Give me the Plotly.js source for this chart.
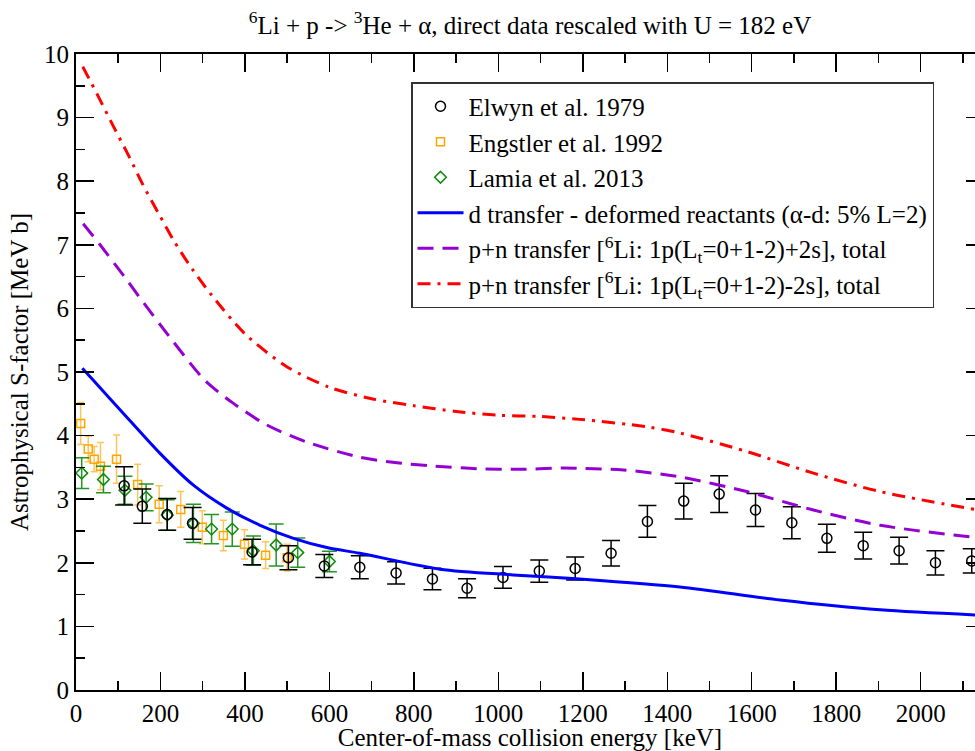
<!DOCTYPE html>
<html>
<head>
<meta charset="utf-8">
<script src="https://cdn.plot.ly/plotly-3.0.1.min.js"></script>
<style>
  html, body { margin: 0; padding: 0; background: #fff; overflow: hidden; }
  #wrap { width: 975px; height: 751px; overflow: hidden; }
  #chart { width: 990px; height: 751px; }
</style>
</head>
<body>
<div id="wrap"><div id="chart"></div></div>
<script>
// Elwyn et al. 1979
const elwynE   = [114,157,216,276,417,503,588,672,758,844,926,1011,1097,1182,1267,1353,1439,1523,1609,1695,1778,1864,1949,2035,2121];
const elwynS   = [3.21,2.89,2.76,2.62,2.17,2.08,1.95,1.93,1.84,1.745,1.60,1.77,1.87,1.91,2.15,2.65,2.97,3.08,2.83,2.63,2.385,2.27,2.19,2.00,2.03];
const elwynErr = [0.30,0.27,0.25,0.25,0.20,0.19,0.18,0.18,0.175,0.17,0.15,0.17,0.175,0.18,0.20,0.25,0.28,0.29,0.26,0.25,0.22,0.21,0.21,0.19,0.19];

// Engstler et al. 1992
const engE   = [11,29,43,58,96,146,197,248,299,349,399,449,500];
const engS   = [4.19,3.79,3.63,3.52,3.63,3.23,2.92,2.84,2.56,2.43,2.29,2.12,2.08];
const engErr = [0.33,0.20,0.20,0.37,0.38,0.32,0.29,0.28,0.26,0.24,0.23,0.21,0.21];

// Lamia et al. 2013
const lamE   = [13.5,65,116,166,216,278,321,370,420,474,525,600];
const lamS   = [3.41,3.31,3.14,3.03,2.75,2.62,2.53,2.53,2.19,2.28,2.16,2.02];
const lamErr = [0.24,0.21,0.22,0.21,0.24,0.30,0.23,0.27,0.23,0.33,0.23,0.16];

// d transfer - deformed reactants
const dE = [15,41,108,199,278,357,436,515,594,672,862,1035,1193,1430,1667,1904,2129];
const dS = [5.06,4.87,4.38,3.72,3.22,2.86,2.59,2.385,2.24,2.15,1.90,1.81,1.745,1.62,1.415,1.26,1.18];

// p+n transfer (+2s)
const pE = [17,57,120,152,230,305,372,451,546,672,750,850,950,1050,1150,1193,1296,1430,1588,1746,1904,2129];
const pS = [7.33,7.0,6.45,6.16,5.48,4.87,4.51,4.17,3.90,3.66,3.58,3.52,3.48,3.47,3.49,3.485,3.46,3.35,3.12,2.83,2.59,2.40];

// p+n transfer (-2s)
const mE = [16,53,88,124,158,195,233,275,321,400,500,600,700,800,900,1000,1100,1193,1351,1430,1588,1746,1904,2129];
const mS = [9.80,9.33,8.87,8.41,7.95,7.50,7.05,6.62,6.21,5.60,5.08,4.76,4.58,4.47,4.38,4.32,4.30,4.255,4.14,4.04,3.75,3.41,3.12,2.84];

const names = [
  'Elwyn et al. 1979',
  'Engstler et al. 1992',
  'Lamia et al. 2013',
  'd transfer - deformed reactants (α-d: 5% L=2)',
  'p+n transfer [<sup>6</sup>Li: 1p(L<sub>t</sub>=0+1-2)+2s], total',
  'p+n transfer [<sup>6</sup>Li: 1p(L<sub>t</sub>=0+1-2)-2s], total'
];

const traces = [
  { x: engE, y: engS, name: names[1], legendrank: 2, type: 'scatter', mode: 'markers',
    marker: { symbol: 'square-open', size: 8, color: '#FFA500', line: { width: 1.5, color: '#FFA500' } },
    error_y: { type: 'data', array: engErr, visible: true, color: 'rgba(255,165,0,0.65)', thickness: 1.5, width: 3.5 } },
  { x: lamE, y: lamS, name: names[2], legendrank: 3, type: 'scatter', mode: 'markers',
    marker: { symbol: 'diamond-open', size: 9, color: '#0b8a0b', line: { width: 1.5, color: '#0b8a0b' } },
    error_y: { type: 'data', array: lamErr, visible: true, color: 'rgba(0,130,0,0.85)', thickness: 1.5, width: 7.5 } },
  { x: elwynE, y: elwynS, name: names[0], legendrank: 1, type: 'scatter', mode: 'markers',
    marker: { symbol: 'circle-open', size: 10, color: '#000', line: { width: 1.5, color: '#000' } },
    error_y: { type: 'data', array: elwynErr, visible: true, color: '#000', thickness: 1.5, width: 9 } },
  { x: dE, y: dS, name: names[3], legendrank: 4, type: 'scatter', mode: 'lines',
    line: { color: '#0000FF', width: 3, shape: 'spline', smoothing: 0.8 } },
  { x: pE, y: pS, name: names[4], legendrank: 5, type: 'scatter', mode: 'lines',
    line: { color: '#9400D3', width: 3, dash: '16px,9px', shape: 'spline', smoothing: 0.8 } },
  { x: mE, y: mS, name: names[5], legendrank: 6, type: 'scatter', mode: 'lines',
    line: { color: '#FF0000', width: 3, dash: '13px,7px,3px,7px', shape: 'spline', smoothing: 0.8 } }
];

const font = '"Liberation Serif", "Times New Roman", serif';
const FS = 25;

const axisCommon = {
  showline: true, linecolor: '#000', linewidth: 2, mirror: 'ticks',
  ticks: 'inside', ticklen: 18, tickwidth: 1.5, tickcolor: '#000',
  showgrid: false, zeroline: false,
  tickfont: { family: font, size: FS, color: '#000' }
};

const layout = {
  width: 990, height: 751,
  margin: { l: 76, r: 6, t: 54, b: 61 },
  paper_bgcolor: '#fff', plot_bgcolor: '#fff',
  font: { family: font, color: '#000', size: FS },
  title: {
    text: '<sup>6</sup>Li + p -> <sup>3</sup>He + α, direct data rescaled with U = 182 eV',
    font: { family: font, size: FS, color: '#000' },
    x: 530 / 990, xanchor: 'center', xref: 'container',
    y: 1 - 25 / 751, yanchor: 'middle', yref: 'container'
  },
  xaxis: Object.assign({}, axisCommon, {
    range: [0, 2150], dtick: 200, tick0: 0,
    minor: { ticks: 'inside', ticklen: 9, tickwidth: 1.5, tickcolor: '#000', dtick: 100 },
    title: { text: 'Center-of-mass collision energy [keV]', font: { family: font, size: FS, color: '#000' }, standoff: 2 }
  }),
  yaxis: Object.assign({}, axisCommon, {
    range: [0, 10], dtick: 1, tick0: 0,
    minor: { ticks: 'inside', ticklen: 9, tickwidth: 1.5, tickcolor: '#000', dtick: 0.5 },
    title: { text: 'Astrophysical S-factor [MeV b]', font: { family: font, size: FS, color: '#000' }, standoff: 8 }
  }),
  showlegend: true,
  legend: {
    x: (411 - 76) / 908, y: (690 - 82) / 636, xanchor: 'left', yanchor: 'top',
    bgcolor: '#fff', bordercolor: '#333', borderwidth: 1.5,
    font: { family: font, size: FS, color: '#000' },
    tracegroupgap: 0, itemwidth: 46
  }
};

Plotly.newPlot('chart', traces, layout, { displayModeBar: false, staticPlot: true });
</script>
</body>
</html>
